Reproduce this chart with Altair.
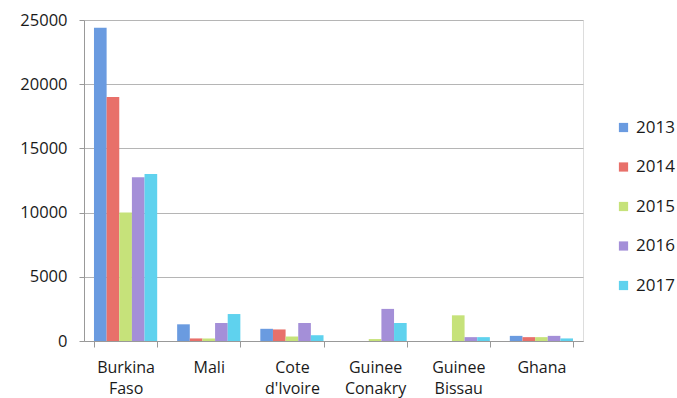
import altair as alt
import pandas as pd

# Countries along the x axis and the five reporting years
countries = ["Burkina Faso", "Mali", "Cote d'Ivoire", "Guinee Conakry", "Guinee Bissau", "Ghana"]
years = ["2013", "2014", "2015", "2016", "2017"]

# One list per year, in the order of `countries`
values_2013 = [24400, 1300, 950, 0, 0, 400]
values_2014 = [19000, 200, 900, 0, 0, 300]
values_2015 = [10000, 200, 350, 150, 2000, 300]
values_2016 = [12750, 1400, 1400, 2500, 300, 400]
values_2017 = [13000, 2100, 450, 1400, 300, 200]

year_colors = ["#6a9be0", "#e8706a", "#c6e27a", "#a48fd8", "#5fd2ee"]

series = [values_2013, values_2014, values_2015, values_2016, values_2017]
rows = []
for year, vals in zip(years, series):
    for country, v in zip(countries, vals):
        rows.append({"country": country, "year": year, "value": v})
df = pd.DataFrame(rows)

font = "Open Sans"
text_color = "#1a1a1a"

chart = (
    alt.Chart(df)
    .mark_bar()
    .encode(
        x=alt.X(
            "country:N",
            sort=countries,
            scale=alt.Scale(paddingInner=0.24, paddingOuter=0.12),
            axis=alt.Axis(
                title=None,
                labelAngle=0,
                labelExpr="split(datum.label, ' ')",
                labelLineHeight=21,
                labelFontSize=16,
                labelFont=font,
                labelColor=text_color,
                labelPadding=12,
                tickBand="extent",
                tickSize=6,
                tickColor="#999999",
                domainColor="#999999",
                grid=False,
            ),
        ),
        xOffset=alt.XOffset("year:N", sort=years, scale=alt.Scale(paddingInner=0, paddingOuter=0)),
        y=alt.Y(
            "value:Q",
            scale=alt.Scale(domain=[0, 25000], nice=False),
            axis=alt.Axis(
                title=None,
                values=[0, 5000, 10000, 15000, 20000, 25000],
                format="d",
                labelFontSize=16.5,
                labelFont=font,
                labelColor=text_color,
                labelPadding=12,
                tickSize=5,
                tickColor="#999999",
                domainColor="#999999",
                gridColor="#b5b5b5",
                gridWidth=1,
            ),
        ),
        color=alt.Color(
            "year:N",
            sort=years,
            scale=alt.Scale(domain=years, range=year_colors),
            legend=alt.Legend(
                title=None,
                orient="none",
                legendX=531,
                legendY=99,
                symbolType="square",
                symbolSize=85,
                symbolStrokeWidth=0,
                labelFontSize=17,
                labelFont=font,
                labelColor=text_color,
                rowPadding=21.5,
                labelOffset=4,
            ),
        ),
    )
    .properties(
        width=499,
        height=321,
        padding={"left": 84, "top": 20, "right": 94, "bottom": 57},
        autosize=alt.AutoSizeParams(type="none"),
    )
    .configure_view(stroke=None)
    .configure(background="white")
)

chart.save("out.html", embed_options={"renderer": "svg", "actions": False})
